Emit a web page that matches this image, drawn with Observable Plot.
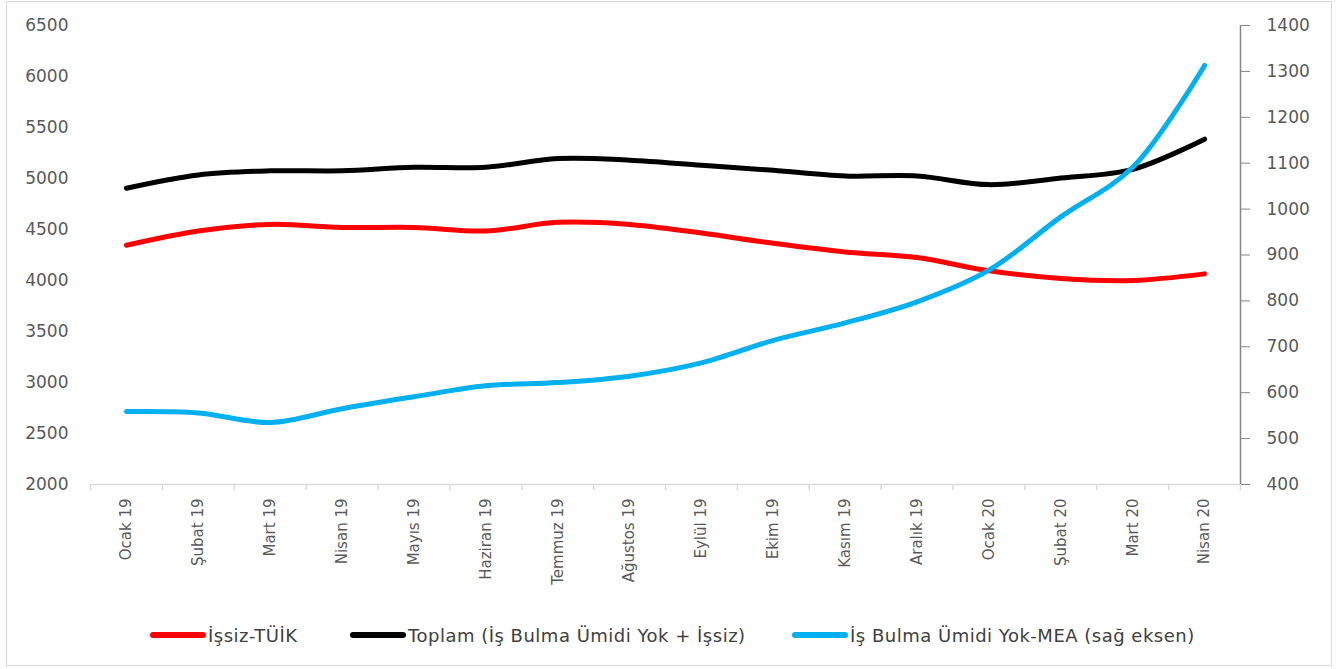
<!DOCTYPE html>
<html>
<head>
<meta charset="utf-8">
<script src="https://cdn.jsdelivr.net/npm/d3@7"></script>
<script src="https://cdn.jsdelivr.net/npm/@observablehq/plot@0.6"></script>
<style>
  html, body { margin: 0; padding: 0; background: #fff; }
  #page { position: relative; width: 1341px; height: 669px; overflow: hidden; }
  #border { position: absolute; left: 6px; top: 1px; width: 1326px; height: 665px; border: 1px solid #d9d9d9; box-sizing: border-box; }
  #chart { position: absolute; left: 0; top: 0; }
  #legend { position: absolute; top: 623px; left: 0; width: 1341px; height: 24px; font-family: "DejaVu Sans", sans-serif; font-size: 18px; letter-spacing: 0.5px; color: #404040; }
  .item { position: absolute; top: 0; display: flex; align-items: center; height: 24px; white-space: nowrap; }
  .sw { width: 56px; height: 6px; border-radius: 3px; margin-right: 2px; }
</style>
</head>
<body>
<div id="page">
  <div id="border"></div>
  <div id="chart"></div>
  <div id="legend"></div>
</div>
<script>
// ---- data ----
const months = ["Ocak 19","Şubat 19","Mart 19","Nisan 19","Mayıs 19","Haziran 19","Temmuz 19","Ağustos 19","Eylül 19","Ekim 19","Kasım 19","Aralık 19","Ocak 20","Şubat 20","Mart 20","Nisan 20"];
const issizTuik = [4345, 4485, 4550, 4520, 4520, 4485, 4570, 4550, 4465, 4365, 4280, 4225, 4095, 4020, 4000, 4065];
const toplam    = [4905, 5035, 5075, 5075, 5110, 5110, 5195, 5180, 5130, 5080, 5025, 5025, 4940, 5005, 5090, 5385];
const umitsizMea = [559, 556, 535, 565, 591, 615, 622, 636, 665, 714, 752, 798, 867, 983, 1091, 1313];
const leftTicks = [2000, 2500, 3000, 3500, 4000, 4500, 5000, 5500, 6000, 6500];
const rightTicks = [400, 500, 600, 700, 800, 900, 1000, 1100, 1200, 1300, 1400];
const seriesNames = ["İşsiz-TÜİK", "Toplam (İş Bulma Ümidi Yok + İşsiz)", "İş Bulma Ümidi Yok-MEA (sağ eksen)"];
const seriesColors = ["#ff0000", "#000000", "#00b0f0"];

// right axis mapped onto left scale
const toLeft = v => 2000 + (v - 400) * 4.5;
const fromLeft = v => (v - 2000) / 4.5 + 400;

const idx = months.map((_, i) => i);
const rows = [];
idx.forEach(i => rows.push({i, s: seriesNames[0], v: issizTuik[i]}));
idx.forEach(i => rows.push({i, s: seriesNames[1], v: toplam[i]}));
idx.forEach(i => rows.push({i, s: seriesNames[2], v: toLeft(umitsizMea[i])}));
const boundaries = d3.range(months.length + 1).map(i => i - 0.5);

const font = "DejaVu Sans, sans-serif";
const plot = Plot.plot({
  width: 1341,
  height: 600,
  marginLeft: 90,
  marginRight: 101,
  marginTop: 25,
  marginBottom: 116,
  style: {fontFamily: font, fontSize: "17px", color: "#595959", background: "transparent"},
  x: {domain: [-0.5, months.length - 0.5], axis: null},
  y: {domain: [2000, 6500], axis: null},
  color: {domain: seriesNames, range: seriesColors},
  marks: [
    Plot.ruleY([2000], {stroke: "#d9d9d9", strokeWidth: 1.5}),
    Plot.axisX(boundaries, {tickSize: 6, tickFormat: () => "", label: null, stroke: "#d9d9d9", strokeWidth: 1.5}),
    Plot.axisX(idx, {tickSize: 0, tickPadding: 14, tickRotate: -90, tickFormat: i => months[i], label: null, fontSize: 15, fill: "#595959"}),
    Plot.axisY(leftTicks, {anchor: "left", tickSize: 0, tickPadding: 22, tickFormat: d => String(d), label: null, fontSize: 17, fill: "#595959"}),
    Plot.ruleX([months.length - 0.5], {stroke: "#868686", strokeWidth: 1.5}),
    Plot.axisY(rightTicks.map(toLeft), {anchor: "right", tickSize: 9, tickPadding: 17, tickFormat: d => String(Math.round(fromLeft(d))), label: null, stroke: "#868686", fontSize: 17, fill: "#595959"}),
    Plot.line(rows, {x: "i", y: "v", z: "s", stroke: "s", strokeWidth: 5, curve: "catmull-rom", strokeLinecap: "round", strokeLinejoin: "round"})
  ]
});
document.getElementById("chart").appendChild(plot);

// legend
const legendLeft = [150, 350, 792];
const legend = document.getElementById("legend");
seriesNames.forEach((name, k) => {
  const item = document.createElement("div");
  item.className = "item";
  item.style.left = legendLeft[k] + "px";
  const sw = document.createElement("div");
  sw.className = "sw";
  sw.style.background = seriesColors[k];
  const t = document.createElement("span");
  t.textContent = name;
  item.appendChild(sw);
  item.appendChild(t);
  legend.appendChild(item);
});
</script>
</body>
</html>
